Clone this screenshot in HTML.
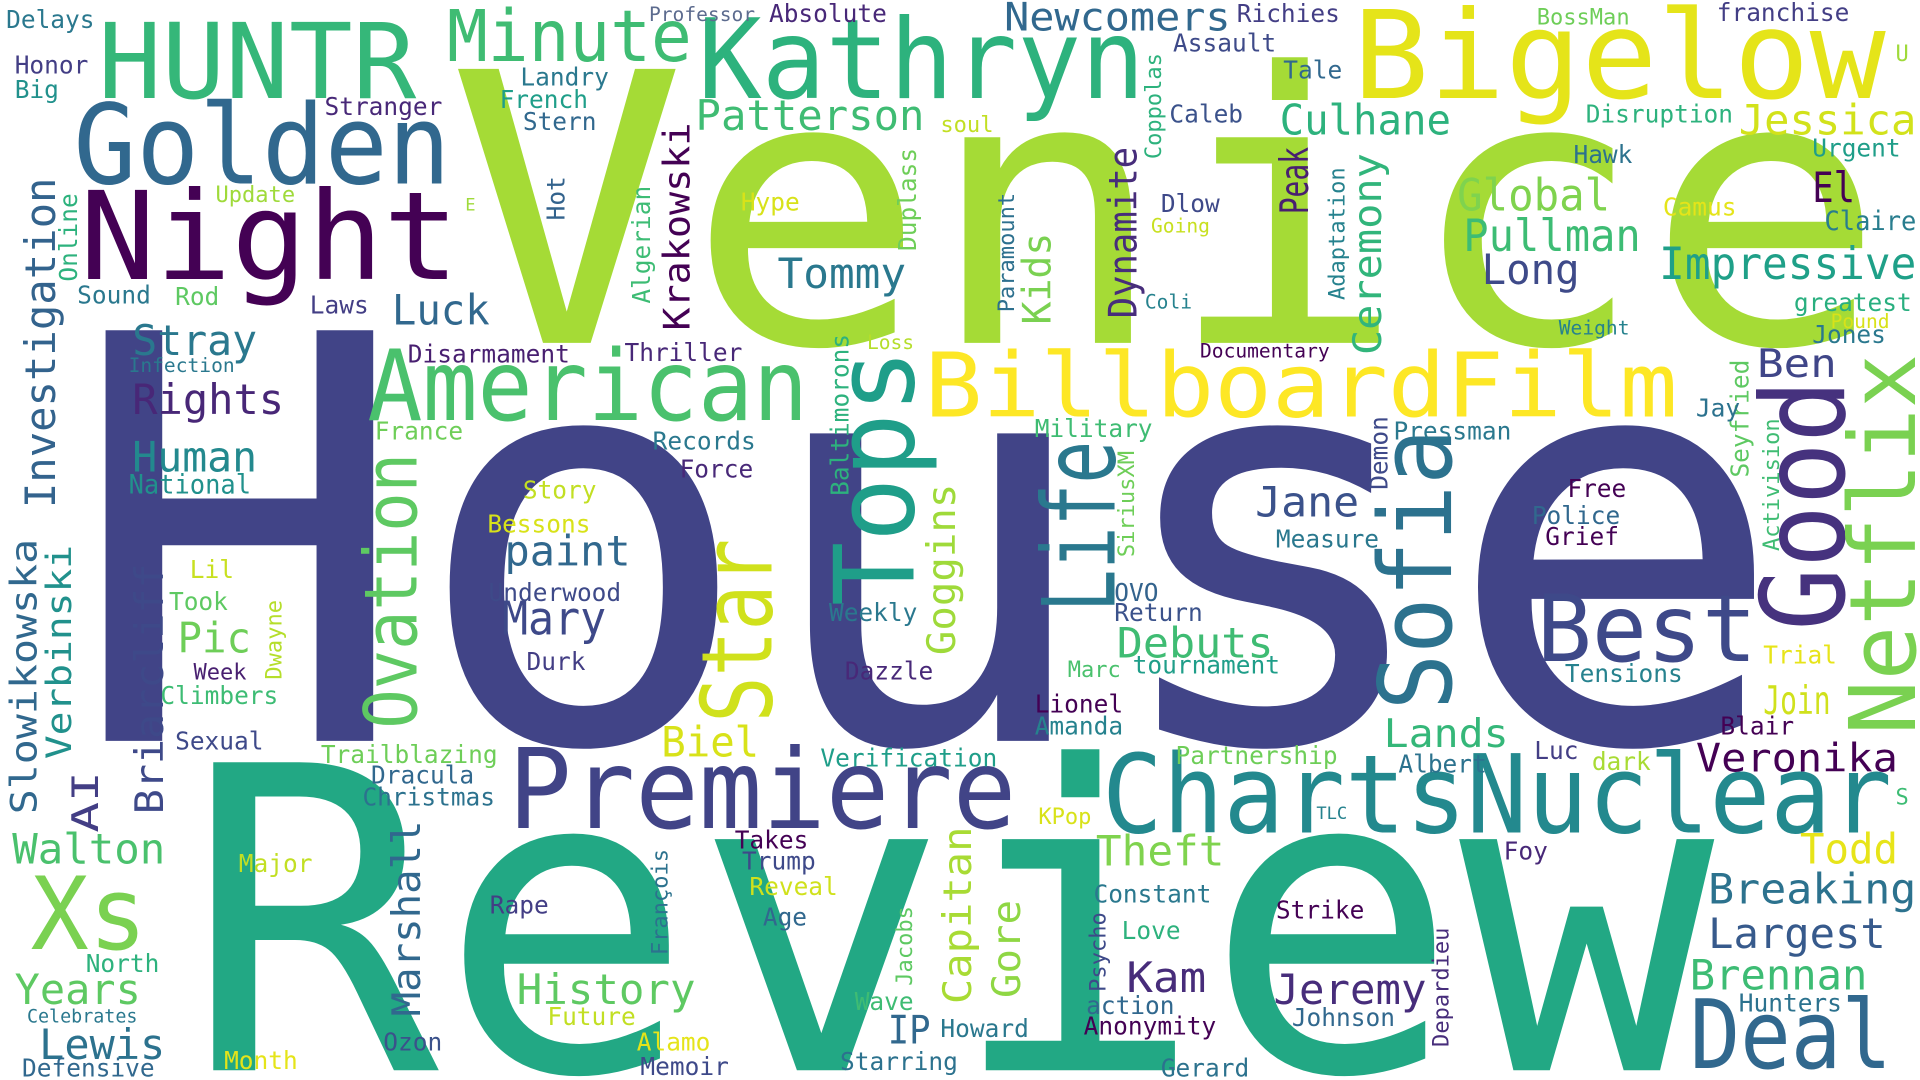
<!DOCTYPE html>
<html><head><meta charset="utf-8">
<style>
html,body{margin:0;padding:0;background:#fff;width:1920px;height:1080px;overflow:hidden;}
svg{display:block;}
text{font-family:"DejaVu Sans Mono","Liberation Mono",monospace;}
</style></head>
<body>
<svg id="cloud" width="1920" height="1080" viewBox="0 0 1568 882" xmlns="http://www.w3.org/2000/svg">
<rect width="1568" height="882" fill="#fff"/>
</svg>
<script>
// word, x, baseline y (bottom for vertical), font size, color, vertical(1), length
const words = [
["House",55,605,460,"#414487",0,1405],
["Venice",365,280,307,"#a5db36",0,1175],
["Review",150,874,345,"#22a884",0,1250],
["Night",65,228,100,"#440154",0,310],
["Golden",60,150,90,"#31688e",0,308],
["HUNTR",80,80,85,"#35b779",0,260],
["Kathryn",570,80,90,"#2db27d",0,365],
["Minute",365,50,58,"#3fbc73",0,200],
["Bigelow",1105,80,100,"#e5e419",0,435],
["Newcomers",820,25,32,"#31688e",0,185],
["BillboardFilm",755,340,73,"#fde725",0,615],
["American",300,343,80,"#4ac16d",0,360],
["Best",1255,540,76,"#3e4989",0,180],
["Premiere",415,676,90,"#414487",0,415],
["ChartsNuclear",900,680,89,"#23898e",0,645],
["Deal",1380,872,78,"#31688e",0,165],
["Xs",25,775,82,"#7ad151",0,95],
["Tops",746,495,90,"#1f9e89",1,210],
["Star",630,590,80,"#d0e11c",1,150],
["Ovation",340,595,60,"#5ec962",1,225],
["Life",910,500,82,"#2a788e",1,140],
["Sofia",1185,580,82,"#2c728e",1,230],
["Good",1506,515,95,"#46327e",1,205],
["Netflix",1564,600,75,"#7ad151",1,311],
["Patterson",568,106,34,"#3fbc73",0,187],
["Culhane",1045,110,34,"#2db27d",0,140],
["Jessica",1420,110,34,"#d2e21b",0,145],
["Global",1190,172,36,"#7fd34e",0,125],
["Pullman",1195,205,36,"#3dbc74",0,145],
["El",1480,165,34,"#440154",0,35],
["Claire",1490,188,22,"#287d8e",0,75],
["Impressive",1355,228,36,"#1fa088",0,210],
["Long",1210,232,34,"#3e4a89",0,80],
["Tommy",635,235,34,"#2a788e",0,105],
["Luck",320,265,34,"#31688e",0,80],
["Stray",108,290,34,"#2a788e",0,102],
["Rights",108,338,34,"#482777",0,124],
["Human",108,385,34,"#23898e",0,102],
["National",105,403,22,"#21918c",0,100],
["Investigation",45,415,34,"#33638d",1,270],
["Slowikowska",30,665,30,"#31688e",1,225],
["Verbinski",58,620,28,"#21918c",1,175],
["AI",80,680,30,"#433e85",1,50],
["Briarcliff",133,665,32,"#3e4989",1,205],
["Walton",10,705,34,"#4ac16d",0,125],
["Years",12,820,34,"#5ec962",0,103],
["Lewis",32,865,34,"#2c728e",0,103],
["Krakowski",563,270,30,"#440154",1,170],
["Kids",858,265,32,"#7ad151",1,75],
["Dynamite",928,260,32,"#472d7b",1,140],
["Peak",1068,175,32,"#481f70",1,55],
["Ceremony",1128,290,32,"#31b57b",1,165],
["Ben",1435,308,32,"#404688",0,65],
["Jane",1025,422,34,"#3b528b",0,85],
["paint",412,462,34,"#31688e",0,103],
["Mary",410,518,38,"#3e4989",0,85],
["Pic",145,533,34,"#6ece58",0,60],
["Goggins",780,535,32,"#9fda3a",1,140],
["Debuts",912,537,34,"#3fbc73",0,128],
["Join",1440,583,32,"#d0e11c",0,55],
["Veronika",1385,630,32,"#440154",0,165],
["Lands",1130,610,32,"#35b779",0,102],
["Biel",540,618,34,"#d8e219",0,80],
["Theft",895,707,34,"#7fd34e",0,105],
["Todd",1470,705,34,"#e7e419",0,80],
["Breaking",1395,738,34,"#2c728e",0,170],
["Largest",1395,774,34,"#375a8c",0,145],
["Brennan",1380,808,34,"#3dbc74",0,145],
["Marshall",343,830,32,"#31688e",1,160],
["Capitan",793,820,32,"#a8db34",1,145],
["Gore",833,815,32,"#8fd744",1,80],
["History",422,820,34,"#5ec962",0,146],
["Kam",920,810,34,"#472c7a",0,65],
["Jeremy",1040,820,34,"#472d7b",0,125],
["IP",725,852,32,"#31688e",0,35],
["Delays",5,23,20,"#2a788e",0,0],
["Honor",12,60,20,"#433e85",0,0],
["Big",12,80,20,"#21918c",0,0],
["Professor",530,17,16,"#5c6b8e",0,0],
["Absolute",628,18,20,"#482878",0,0],
["Richies",1010,18,20,"#433e85",0,0],
["Assault",958,42,20,"#3e4a89",0,0],
["BossMan",1255,20,18,"#6ece58",0,0],
["franchise",1402,17,20,"#433e85",0,0],
["U",1548,50,18,"#9fda3a",0,0],
["Landry",425,70,20,"#2a788e",0,0],
["French",408,88,20,"#1f9e89",0,0],
["Stern",427,106,20,"#31688e",0,0],
["Stranger",265,94,20,"#482878",0,0],
["Tale",1048,64,20,"#31688e",0,0],
["Coppolas",948,130,18,"#2db27d",1,0],
["Caleb",955,100,20,"#3b528b",0,0],
["soul",768,108,18,"#c2df23",0,0],
["Disruption",1295,100,20,"#2db27d",0,0],
["Urgent",1480,128,20,"#1f9e89",0,0],
["Hawk",1285,133,20,"#2c728e",0,0],
["Update",176,165,18,"#9fda3a",0,0],
["Online",63,230,20,"#2db27d",1,0],
["Hot",461,180,20,"#33638d",1,0],
["E",380,172,14,"#9fda3a",0,0],
["Hype",605,172,20,"#d8e219",0,0],
["Duplass",748,205,20,"#6ece58",1,0],
["Paramount",828,255,18,"#2d708e",1,0],
["Dlow",948,173,20,"#3e4989",0,0],
["Going",940,190,16,"#c8e020",0,0],
["Camus",1358,176,20,"#e5e419",0,0],
["Adaptation",1098,245,18,"#26828e",1,0],
["Algerian",531,248,20,"#3dbc74",1,0],
["Sound",63,248,20,"#2a788e",0,0],
["Rod",143,249,20,"#5ec962",0,0],
["Laws",253,256,20,"#433e85",0,0],
["Coli",935,252,16,"#26828e",0,0],
["greatest",1465,254,20,"#29af7f",0,0],
["Pound",1495,268,16,"#d8e219",0,0],
["Weight",1273,273,16,"#26828e",0,0],
["Jones",1480,280,20,"#2a788e",0,0],
["Infection",105,304,16,"#2a788e",0,0],
["Disarmament",333,296,20,"#481f70",0,0],
["Thriller",510,295,20,"#482878",0,0],
["Loss",708,285,16,"#b5de2b",0,0],
["Documentary",980,292,16,"#440154",0,0],
["Baltimorons",693,405,20,"#2db27d",1,0],
["Seyfried",1428,390,20,"#5ec962",1,0],
["Jay",1385,340,20,"#2c728e",0,0],
["Activision",1453,450,18,"#3fbc73",1,0],
["France",306,359,20,"#6ece58",0,0],
["Records",533,367,20,"#2a788e",0,0],
["Military",845,357,20,"#3fbc73",0,0],
["Demon",1133,400,20,"#3e4989",1,0],
["Pressman",1138,359,20,"#2a788e",0,0],
["Force",555,390,20,"#482878",0,0],
["SiriusXM",926,455,18,"#6ece58",1,0],
["Free",1280,406,20,"#440154",0,0],
["Story",427,407,20,"#c2df23",0,0],
["Bessons",398,435,20,"#d8e219",0,0],
["Police",1251,428,20,"#31688e",0,0],
["Grief",1262,445,20,"#440154",0,0],
["Measure",1042,447,20,"#2a788e",0,0],
["Lil",155,472,20,"#c8e020",0,0],
["Took",138,498,20,"#5ec962",0,0],
["Underwood",399,491,20,"#3e4a89",0,0],
["Weekly",677,507,20,"#2a788e",0,0],
["Dwayne",230,555,18,"#b5de2b",1,0],
["OVO",910,491,20,"#33638d",0,0],
["Return",910,507,20,"#3b528b",0,0],
["Durk",430,547,20,"#433e85",0,0],
["Trial",1440,542,20,"#e7e419",0,0],
["Week",158,555,18,"#481f70",0,0],
["Dazzle",690,555,20,"#482878",0,0],
["Marc",872,553,18,"#4ac16d",0,0],
["tournament",925,550,20,"#1f9e89",0,0],
["Tensions",1278,557,20,"#26828e",0,0],
["Climbers",131,575,20,"#3dbc74",0,0],
["Lionel",845,582,20,"#440154",0,0],
["Amanda",845,600,20,"#26828e",0,0],
["Blair",1405,600,20,"#440154",0,0],
["Sexual",143,612,20,"#3e4989",0,0],
["Trailblazing",262,623,20,"#6ece58",0,0],
["Verification",670,626,20,"#1f9e89",0,0],
["Partnership",960,624,20,"#6ece58",0,0],
["Luc",1253,620,20,"#433e85",0,0],
["Albert",1142,631,20,"#2c728e",0,0],
["dark",1300,629,20,"#a8db34",0,0],
["Dracula",303,640,20,"#31688e",0,0],
["Christmas",296,658,20,"#2c728e",0,0],
["KPop",848,673,18,"#d8e219",0,0],
["TLC",1075,669,14,"#26828e",0,0],
["S",1548,657,18,"#3dbc74",0,0],
["Takes",600,693,20,"#440154",0,0],
["Trump",606,710,20,"#3e4989",0,0],
["François",545,780,18,"#2c728e",1,0],
["Foy",1228,702,20,"#482878",0,0],
["Major",195,712,20,"#c2df23",0,0],
["Reveal",612,731,20,"#d0e11c",0,0],
["Constant",893,737,20,"#2a788e",0,0],
["Rape",400,746,20,"#433e85",0,0],
["Age",623,756,20,"#31688e",0,0],
["Strike",1042,750,20,"#440154",0,0],
["Psycho",903,810,18,"#3e4a89",1,0],
["Jacobs",745,805,18,"#5ec962",1,0],
["Love",916,767,20,"#2db27d",0,0],
["Depardieu",1183,855,18,"#472d7b",1,0],
["North",70,794,20,"#2db27d",0,0],
["Hunters",1420,826,20,"#2c728e",0,0],
["Wave",698,825,20,"#3fbc73",0,0],
["action",887,828,20,"#31688e",0,0],
["Future",447,837,20,"#c2df23",0,0],
["Celebrates",22,835,15,"#2a788e",0,0],
["Johnson",1055,838,20,"#31688e",0,0],
["Howard",768,847,20,"#2a788e",0,0],
["Anonymity",885,845,20,"#440154",0,0],
["Ozon",313,858,20,"#3b528b",0,0],
["Alamo",520,858,20,"#e5e419",0,0],
["Month",183,873,20,"#e5e419",0,0],
["Memoir",523,878,20,"#3e4989",0,0],
["Starring",686,874,20,"#2c728e",0,0],
["Gerard",948,879,20,"#2c728e",0,0],
["Defensive",18,879,20,"#31688e",0,0]
];
const svg = document.getElementById('cloud');
const NS = "http://www.w3.org/2000/svg";
for (const w of words) {
  const t = document.createElementNS(NS, 'text');
  
  
  t.setAttribute('font-size', w[3]);
  t.setAttribute('fill', w[4]);
  if (w[6] > 0) {
    t.setAttribute('textLength', w[6]);
    t.setAttribute('lengthAdjust', 'spacingAndGlyphs');
  }
  if (w[5]) {
    t.setAttribute('x', 0);
    t.setAttribute('y', 0);
    t.setAttribute('transform', 'translate(' + w[1] + ',' + w[2] + ') rotate(-90)');
  } else {
    t.setAttribute('x', w[1]);
    t.setAttribute('y', w[2]);
  }
  t.textContent = w[0];
  svg.appendChild(t);
}
</script>
</body></html>
